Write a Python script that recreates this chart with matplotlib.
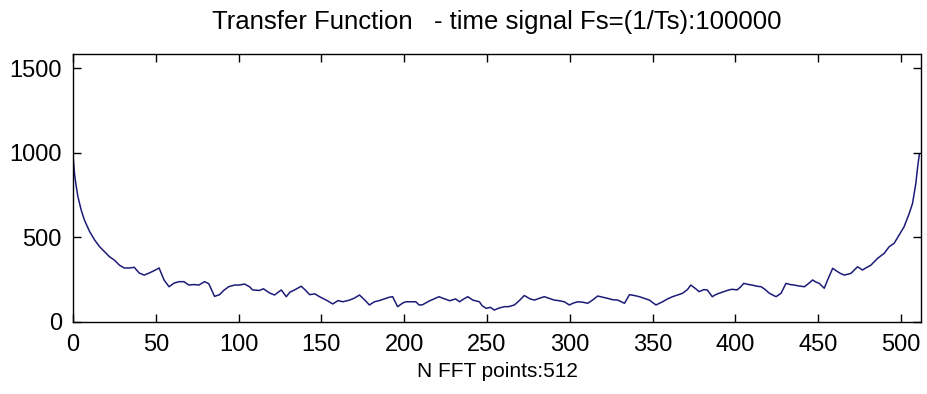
import matplotlib
matplotlib.use("Agg")
import matplotlib.pyplot as plt

# values (bin index, magnitude)
nPoints = [0, 1, 2, 3, 4, 5, 7, 10, 13, 16, 19, 22, 25, 28, 31, 34, 37, 40, 43, 46,
           49, 52, 55, 58, 61, 64, 67, 70, 73, 76, 79.5, 82, 85.5, 88.5, 91, 94, 97.6,
           100.6, 103.6, 106.6, 108.5, 112.6, 115, 118.7, 121.7, 125.8, 128.8, 131,
           133.8, 137.8, 140, 142.9, 146, 148.9, 152.9, 156.9, 160, 163, 167, 170, 173,
           176, 179, 182, 185, 188, 191, 193, 196, 199, 201, 204, 207, 209, 211, 215,
           218, 221, 223, 227.5, 231, 233.4, 236, 238.4, 241.4, 245.4, 247, 249.5, 252,
           254.4, 257, 260.5, 263, 266.5, 269, 272.5, 276, 278.6, 282, 284.6, 287,
           290.6, 293, 296.7, 299.7, 302, 304.8, 308, 310.8, 314, 316.8, 320, 322.9,
           326, 328.9, 331, 333, 336, 339, 342, 345, 348, 352, 356, 359, 362, 365, 368,
           371, 373, 376, 378, 381, 383, 386, 388, 390, 393, 396, 398, 401, 403, 405,
           408, 410, 413, 415.5, 418, 420.5, 424.5, 427.5, 430.5, 433, 435.5, 438,
           441.6, 444, 446.6, 448.5, 450.6, 453.6, 455.6, 458.7, 461.7, 463.5, 465.7,
           469.7, 473.7, 476.7, 479, 481.8, 485.8, 489.8, 492.8, 495.8, 498.8, 501.8,
           504.9, 506.9, 508.9, 510, 511]
magnitude = [990, 870, 800, 740, 700, 660, 600, 535, 485, 445, 415, 385, 365, 335, 318,
             318, 322, 288, 276, 288, 302, 318, 247, 207, 228, 237, 237, 217, 220, 217,
             237, 225, 150, 160, 185, 207, 217, 217, 223, 207, 188, 185, 195, 170, 158,
             188, 148, 175, 188, 210, 190, 160, 165, 148, 128, 105, 125, 118, 128, 140,
             158, 130, 99, 118, 125, 135, 145, 148, 89, 110, 118, 118, 118, 99, 100, 122,
             135, 148, 140, 124, 135, 118, 135, 148, 128, 118, 95, 79, 85, 69, 80, 89,
             89, 99, 120, 155, 135, 128, 140, 148, 140, 128, 125, 118, 99, 110, 118, 115,
             109, 130, 152, 145, 138, 130, 128, 118, 109, 160, 155, 148, 138, 128, 99,
             118, 135, 148, 158, 168, 190, 217, 195, 178, 190, 188, 148, 160, 168, 178,
             188, 192, 188, 205, 227, 220, 217, 210, 207, 190, 168, 148, 168, 227, 220,
             217, 212, 207, 225, 247, 235, 227, 198, 247, 316, 296, 285, 276, 286, 325,
             306, 320, 335, 375, 405, 444, 464, 513, 562, 641, 700, 819, 917, 990]

xTicks = [0, 50, 100, 150, 200, 250, 300, 350, 400, 450, 500]
yTicks = [0, 500, 1000, 1500]

plt.rcParams['font.family'] = ['Liberation Sans', 'DejaVu Sans']

fig = plt.figure(figsize=(9.27, 3.94), dpi=100)
ax = fig.add_axes([0.0787, 0.1835, 0.9148, 0.6795])

ax.plot(nPoints, magnitude, color='#1c1c78', linewidth=1.1)

ax.set_xlim(0, 512)
ax.set_ylim(0, 1585)
ax.set_xticks(xTicks)
ax.set_yticks(yTicks)
ax.tick_params(direction='in', length=6, width=1, top=True, right=True,
               labelsize=17, colors='black')
ax.tick_params(axis='x', pad=9)
ax.tick_params(axis='y', pad=8)
for s in ax.spines.values():
    s.set_linewidth(1.0)

ax.set_title("Transfer Function   - time signal Fs=(1/Ts):100000", fontsize=18.5, pad=18)
ax.set_xlabel("N FFT points:512", fontsize=15, labelpad=4)

fig.savefig("out.png", dpi=100)
